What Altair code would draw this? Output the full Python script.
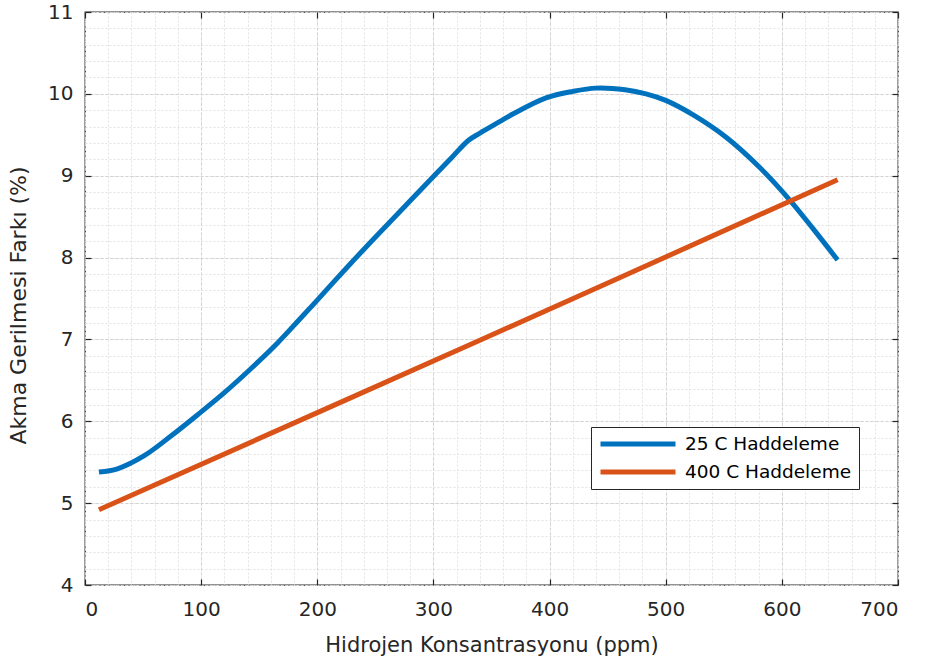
import altair as alt
import pandas as pd

# ---- data ----
x_25 = [12, 28, 51, 74, 97, 120, 143, 166, 185, 200, 214, 242, 271, 300, 315,
        330, 340, 357, 368, 397, 420, 440, 465, 483, 500, 524, 552, 581, 607,
        627, 648]
y_25 = [5.38, 5.42, 5.58, 5.82, 6.08, 6.35, 6.645, 6.96, 7.25, 7.48, 7.70, 8.13,
        8.56, 8.99, 9.21, 9.43, 9.52, 9.66, 9.75, 9.95, 10.03, 10.07, 10.05,
        10.00, 9.92, 9.74, 9.47, 9.10, 8.70, 8.35, 7.97]
x_400 = [12, 340, 648]
y_400 = [4.92, 6.99, 8.95]

series_names = ["25 C Haddeleme", "400 C Haddeleme"]
series_colors = ["#0072BD", "#D95319"]

x_major = [0, 100, 200, 300, 400, 500, 600, 700]
y_major = [4, 5, 6, 7, 8, 9, 10, 11]
x_minor = [v for v in range(0, 701, 20)]
y_minor = [round(4 + 0.2 * i, 1) for i in range(36)]

rows = []
for xv, yv in zip(x_25, y_25):
    rows.append({"x": xv, "y": yv, "series": series_names[0]})
for xv, yv in zip(x_400, y_400):
    rows.append({"x": xv, "y": yv, "series": series_names[1]})
df = pd.DataFrame(rows)

W, H = 813, 573
FONT = "DejaVu Sans"
TXT = "#262626"

xscale = alt.Scale(domain=[0, 700], nice=False, zero=False)
yscale = alt.Scale(domain=[4, 11], nice=False, zero=False)

base = alt.Chart(df)

# minor grid
minor = base.mark_point(opacity=0, size=0).encode(
    x=alt.X("x:Q", scale=xscale, axis=alt.Axis(
        orient="bottom", values=x_minor, grid=True, gridColor="#e3e3e3",
        gridDash=[2, 2], gridWidth=1, labels=False, ticks=False, domain=False,
        title=None)),
    y=alt.Y("y:Q", scale=yscale, axis=alt.Axis(
        orient="left", values=y_minor, grid=True, gridColor="#e3e3e3",
        gridDash=[2, 2], gridWidth=1, labels=False, ticks=False, domain=False,
        title=None)),
)

# major grid + labels + titles
lines = base.mark_line(strokeWidth=5, interpolate="catmull-rom").encode(
    x=alt.X("x:Q", scale=xscale, axis=alt.Axis(
        orient="bottom", values=x_major, grid=True, gridColor="#d2d2d2",
        gridDash=[3, 2], gridWidth=1, ticks=False, domain=False,
        labelFont=FONT, labelFontSize=20, labelColor=TXT, labelPadding=14,
        title="Hidrojen Konsantrasyonu (ppm)", titleFont=FONT, titleFontSize=21,
        titleFontWeight="normal", titleColor=TXT, titleY=66,
        titleBaseline="alphabetic")),
    y=alt.Y("y:Q", scale=yscale, axis=alt.Axis(
        orient="left", values=y_major, grid=True, gridColor="#d2d2d2",
        gridDash=[3, 2], gridWidth=1, ticks=False, domain=False,
        labelFont=FONT, labelFontSize=20, labelColor=TXT, labelPadding=12,
        title="Akma Gerilmesi Farkı (%)", titleFont=FONT, titleFontSize=22,
        titleFontWeight="normal", titleColor=TXT, titleX=-67, titleY=293,
        titleBaseline="middle", titleAlign="center")),
    color=alt.Color("series:N",
                    scale=alt.Scale(domain=series_names, range=series_colors),
                    legend=alt.Legend(
                        title=None, orient="none", legendX=506, legendY=415,
                        symbolType="stroke", symbolSize=5625,
                        symbolStrokeWidth=5, clipHeight=20, rowPadding=8,
                        labelFont=FONT, labelFontSize=18.5, labelColor="#000000",
                        labelOffset=7, padding=7, strokeColor="#262626",
                        fillColor="#ffffff", labelLimit=400)),
)

# inward ticks: bottom and left
ticks_a = base.mark_point(opacity=0, size=0).encode(
    x=alt.X("x:Q", scale=xscale, axis=alt.Axis(
        orient="top", offset=-H, values=x_major, grid=False, labels=False,
        domain=False, ticks=True, tickSize=6, tickColor=TXT, tickWidth=1.2,
        title=None)),
    y=alt.Y("y:Q", scale=yscale, axis=alt.Axis(
        orient="right", offset=-W, values=y_major, grid=False, labels=False,
        domain=False, ticks=True, tickSize=6, tickColor=TXT, tickWidth=1.2,
        title=None)),
)

# inward ticks: top and right
ticks_b = base.mark_point(opacity=0, size=0).encode(
    x=alt.X("x:Q", scale=xscale, axis=alt.Axis(
        orient="bottom", offset=-H, values=x_major, grid=False, labels=False,
        domain=False, ticks=True, tickSize=6, tickColor=TXT, tickWidth=1.2,
        title=None)),
    y=alt.Y("y:Q", scale=yscale, axis=alt.Axis(
        orient="left", offset=-W, values=y_major, grid=False, labels=False,
        domain=False, ticks=True, tickSize=6, tickColor=TXT, tickWidth=1.2,
        title=None)),
)

chart = alt.layer(minor, ticks_a, ticks_b, lines).resolve_axis(
    x="independent", y="independent"
).properties(
    width=W, height=H,
    autosize=alt.AutoSizeParams(type="none"),
    padding={"left": 85, "top": 12, "right": 27, "bottom": 79},
    background="#ffffff",
).configure_view(stroke=TXT, strokeWidth=1.3)

chart.save("out.html", embed_options={"renderer": "svg", "actions": False})
